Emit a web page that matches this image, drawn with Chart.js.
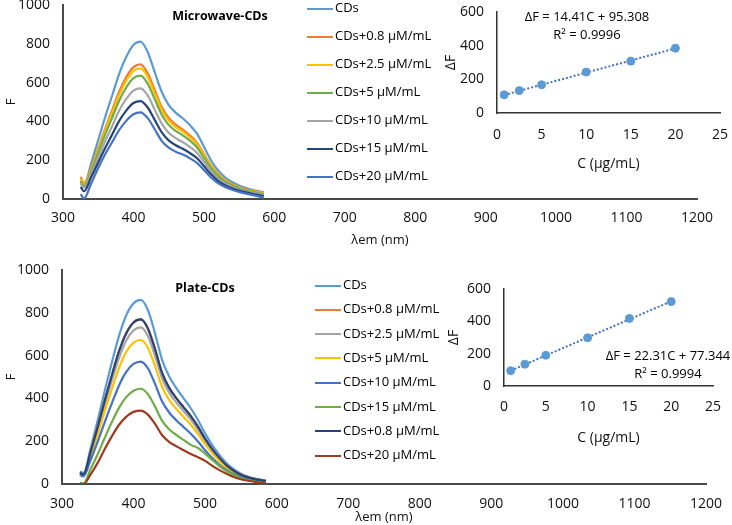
<!DOCTYPE html>
<html>
<head>
<meta charset="utf-8">
<script src="https://cdn.jsdelivr.net/npm/chart.js@4/dist/chart.umd.min.js"></script>
<style>
  body { margin: 0; background: #fff; font-family: "Open Sans", sans-serif; }
  #wrap { position: relative; width: 732px; height: 525px; overflow: hidden; }
  canvas { position: absolute; }
  .t { position: absolute; white-space: nowrap; color: #000; transform: translate(-50%, -50%); }
  .leg { position: absolute; font-size: 13px; color: #000; white-space: nowrap; }
  .leg span { display: inline-block; width: 26px; height: 2px; vertical-align: middle; margin-right: 2px; }
</style>
</head>
<body>
<div id="wrap">
  <canvas id="mwChart" width="732" height="250" style="left:0;top:0"></canvas>
  <canvas id="plateChart" width="732" height="270" style="left:0;top:255px"></canvas>
  <canvas id="mwInset" width="292" height="175" style="left:440px;top:0"></canvas>
  <canvas id="plateInset" width="292" height="180" style="left:440px;top:270px"></canvas>
  <div class="t" style="left:220px;top:15px;font-size:12.5px;font-weight:bold">Microwave-CDs</div>
  <div class="t" style="left:205px;top:287px;font-size:12.5px;font-weight:bold">Plate-CDs</div>
  <div class="t" style="left:587px;top:16px;font-size:13px">ΔF = 14.41C + 95.308</div>
  <div class="t" style="left:587px;top:34px;font-size:13px">R² = 0.9996</div>
  <div class="t" style="left:668px;top:355px;font-size:13px">ΔF = 22.31C + 77.344</div>
  <div class="t" style="left:668px;top:373px;font-size:13px">R² = 0.9994</div>
  <div id="mwLegend"></div>
  <div id="plateLegend"></div>
</div>
<script>
// emission wavelengths (nm)
const wavelengths = [325, 330, 340, 350, 360, 370, 380, 390, 400, 410, 420, 430, 440, 450, 460, 470, 480, 490, 500, 510, 520, 530, 540, 550, 560, 570, 580, 585];

// Microwave-CDs spectra
const mwNames = ['CDs', 'CDs+0.8 µM/mL', 'CDs+2.5 µM/mL', 'CDs+5 µM/mL', 'CDs+10 µM/mL', 'CDs+15 µM/mL', 'CDs+20 µM/mL'];
const mwCDs = [95, 72, 184, 304, 424, 536, 648, 734, 794, 811, 759, 656, 553, 485, 445, 416, 381, 338, 270, 200, 148, 112, 88, 70, 57, 46, 38, 34];
const mw08 = [115, 82, 160, 262, 364, 460, 556, 630, 680, 694, 650, 563, 475, 418, 383, 358, 328, 291, 233, 174, 130, 99, 78, 62, 50, 41, 35, 33];
const mw25 = [102, 74, 154, 254, 353, 446, 539, 611, 660, 673, 631, 546, 460, 405, 371, 347, 318, 283, 227, 169, 126, 96, 75, 60, 48, 39, 33, 30];
const mw5 = [90, 66, 145, 240, 334, 421, 509, 576, 623, 636, 596, 516, 436, 382, 351, 328, 301, 267, 214, 160, 119, 90, 71, 56, 45, 36, 29, 25];
const mw10 = [80, 58, 130, 215, 300, 378, 457, 517, 559, 570, 535, 462, 390, 342, 314, 293, 269, 239, 192, 143, 107, 81, 63, 50, 40, 32, 25, 22];
const mw15 = [62, 40, 112, 188, 264, 334, 404, 457, 495, 505, 473, 409, 345, 302, 277, 259, 237, 211, 170, 127, 94, 71, 55, 43, 34, 26, 19, 15];
const mw20 = [25, 3, 80, 160, 232, 295, 357, 404, 437, 447, 418, 361, 300, 265, 244, 229, 210, 186, 150, 111, 82, 62, 48, 37, 28, 20, 11, 6];
const mwColors = ['#5B9BD5', '#ED7D31', '#FFC000', '#70AD47', '#A5A5A5', '#264478', '#4472C4'];

// Plate-CDs spectra
const plateNames = ['CDs', 'CDs+0.8 µM/mL', 'CDs+2.5 µM/mL', 'CDs+5 µM/mL', 'CDs+10 µM/mL', 'CDs+15 µM/mL', 'CDs+0.8 µM/mL', 'CDs+20 µM/mL'];
const plCDs = [58, 52, 167, 299, 439, 572, 696, 790, 844, 860, 813, 704, 579, 501, 447, 400, 354, 299, 237, 182, 136, 97, 69, 48, 34, 25, 19, 16];
const pl08 = [52, 46, 150, 268, 393, 512, 623, 706, 755, 769, 727, 630, 518, 448, 400, 358, 317, 268, 212, 163, 122, 87, 62, 43, 31, 23, 17, 14];
const pl25 = [50, 44, 142, 255, 374, 487, 592, 672, 718, 732, 692, 599, 493, 426, 380, 340, 301, 254, 202, 155, 116, 83, 59, 41, 29, 21, 16, 13];
const pl5 = [45, 40, 131, 234, 344, 448, 545, 619, 661, 673, 637, 551, 453, 392, 350, 313, 277, 234, 186, 143, 107, 76, 54, 38, 27, 20, 15, 12];
const pl10 = [42, 36, 112, 199, 292, 380, 463, 525, 561, 572, 541, 468, 385, 333, 297, 266, 235, 199, 158, 121, 90, 65, 46, 32, 23, 17, 13, 11];
const pl15 = [5, 3, 70, 140, 218, 292, 358, 407, 436, 445, 420, 362, 295, 255, 229, 206, 183, 168, 142, 112, 84, 60, 42, 28, 19, 13, 8, 6];
const pl20 = [2, 0, 45, 100, 165, 225, 278, 315, 337, 343, 324, 281, 228, 196, 176, 158, 140, 125, 108, 85, 65, 48, 33, 22, 15, 10, 5, 3];
const plateColors = ['#5B9BD5', '#ED7D31', '#A5A5A5', '#FFC000', '#4472C4', '#70AD47', '#264478', '#9E3A1E'];

// calibration insets
const conc = [0.8, 2.5, 5, 10, 15, 20];
const mwDeltaF = [108, 133, 168, 243, 308, 385];
const plateDeltaF = [95, 135, 190, 298, 418, 522];
const trendX = [0.8, 20];
const mwTrend = [107, 384];
const plateTrend = [95, 524];

const font = 'Open Sans';
const axisColor = '#4a4a4a';

function buildLegend(id, names, colors, left, top, gap) {
  const el = document.getElementById(id);
  names.forEach((n, i) => {
    const d = document.createElement('div');
    d.className = 'leg';
    d.style.left = left + 'px';
    d.style.top = (top + i * gap - 9) + 'px';
    d.innerHTML = '<span style="background:' + colors[i] + '"></span>' + n;
    el.appendChild(d);
  });
}

function spectrumChart(id, series, colors, box) {
  const ctx = document.getElementById(id).getContext('2d');
  return new Chart(ctx, {
    type: 'line',
    data: {
      datasets: series.map((s, i) => ({
        data: wavelengths.map((w, j) => ({ x: w, y: s[j] })),
        borderColor: colors[i],
        borderWidth: 2.2,
        pointRadius: 0,
        fill: false,
        cubicInterpolationMode: 'monotone',
        order: series.length - i
      }))
    },
    options: {
      responsive: false,
      animation: false,
      layout: { padding: { top: box.top, right: box.right, left: 0, bottom: 0 } },
      plugins: { legend: { display: false }, tooltip: { enabled: false } },
      scales: {
        x: {
          type: 'linear', min: 300, max: 1200,
          ticks: { stepSize: 100, padding: box.xPad, color: '#111', font: { family: font, size: 14 }, callback: v => String(v) },
          grid: { display: false, drawTicks: false },
          border: { display: true, color: axisColor, width: 2 },
          title: { display: true, text: 'λem (nm)', color: '#111', font: { family: font, size: 13 }, padding: { top: 0, bottom: box.titlePad } },
          afterFit: s => { s.height = box.xh; s.paddingLeft = 0; s.paddingRight = 0; }
        },
        y: {
          min: 0, max: 1000,
          ticks: { stepSize: 200, padding: 13, color: '#111', font: { family: font, size: 14 }, callback: v => String(v) },
          grid: { display: false, drawTicks: false },
          border: { display: true, color: axisColor, width: 2 },
          title: { display: true, text: 'F', color: '#111', font: { family: font, size: 13 }, padding: { top: 3, bottom: 0 } },
          afterFit: s => { s.width = box.yw; s.paddingTop = 0; s.paddingBottom = 0; }
        }
      }
    }
  });
}

function insetChart(id, dF, trend, box) {
  const ctx = document.getElementById(id).getContext('2d');
  return new Chart(ctx, {
    type: 'scatter',
    data: {
      datasets: [
        {
          data: conc.map((c, i) => ({ x: c, y: dF[i] })),
          backgroundColor: '#5B9BD5', borderColor: '#5B9BD5',
          pointRadius: 4, order: 0
        },
        {
          type: 'line',
          data: trendX.map((c, i) => ({ x: c, y: trend[i] })),
          borderColor: '#4472C4', borderWidth: 2, borderDash: [2, 2],
          pointRadius: 0, fill: false, order: 1
        }
      ]
    },
    options: {
      responsive: false,
      animation: false,
      layout: { padding: { top: box.top, right: box.right, left: 0, bottom: 0 } },
      plugins: { legend: { display: false }, tooltip: { enabled: false } },
      scales: {
        x: {
          type: 'linear', min: 0, max: 25,
          ticks: { stepSize: 5, padding: box.xPad, color: '#111', font: { family: font, size: 14 } },
          grid: { display: false, drawTicks: false },
          border: { display: true, color: '#333', width: 1.5 },
          title: { display: true, text: 'C (µg/mL)', color: '#111', font: { family: font, size: 14 }, padding: { top: 0, bottom: box.xtPad } },
          afterFit: s => { s.height = box.xh; s.paddingLeft = 0; s.paddingRight = 0; }
        },
        y: {
          min: 0, max: 600,
          ticks: { stepSize: 200, padding: 13, color: '#111', font: { family: font, size: 14 } },
          grid: { display: false, drawTicks: false },
          border: { display: true, color: '#333', width: 1.5 },
          title: { display: true, text: 'ΔF', color: '#111', font: { family: font, size: 14 }, padding: { top: box.ytPad, bottom: 0 } },
          afterFit: s => { s.width = box.yw; s.paddingTop = 0; s.paddingBottom = 0; }
        }
      }
    }
  });
}

spectrumChart('mwChart', [mwCDs, mw08, mw25, mw5, mw10, mw15, mw20], mwColors,
  { top: 5, right: 35, xh: 51, yw: 63, titlePad: 2, xPad: 11 });
spectrumChart('plateChart', [plCDs, pl08, pl25, pl5, pl10, pl15, pl08, pl20], plateColors,
  { top: 15, right: 26, xh: 41, yw: 62, titlePad: 0, xPad: 12 });
insetChart('mwInset', mwDeltaF, mwTrend, { top: 12, right: 12, xh: 62, yw: 57, xtPad: 3, ytPad: 3, xPad: 14 });
insetChart('plateInset', plateDeltaF, plateTrend, { top: 19, right: 19, xh: 64, yw: 64, xtPad: 4, ytPad: 6, xPad: 13 });

buildLegend('mwLegend', mwNames, mwColors, 307, 7, 28);
buildLegend('plateLegend', plateNames, plateColors, 315, 284, 24.3);
</script>
</body>
</html>
